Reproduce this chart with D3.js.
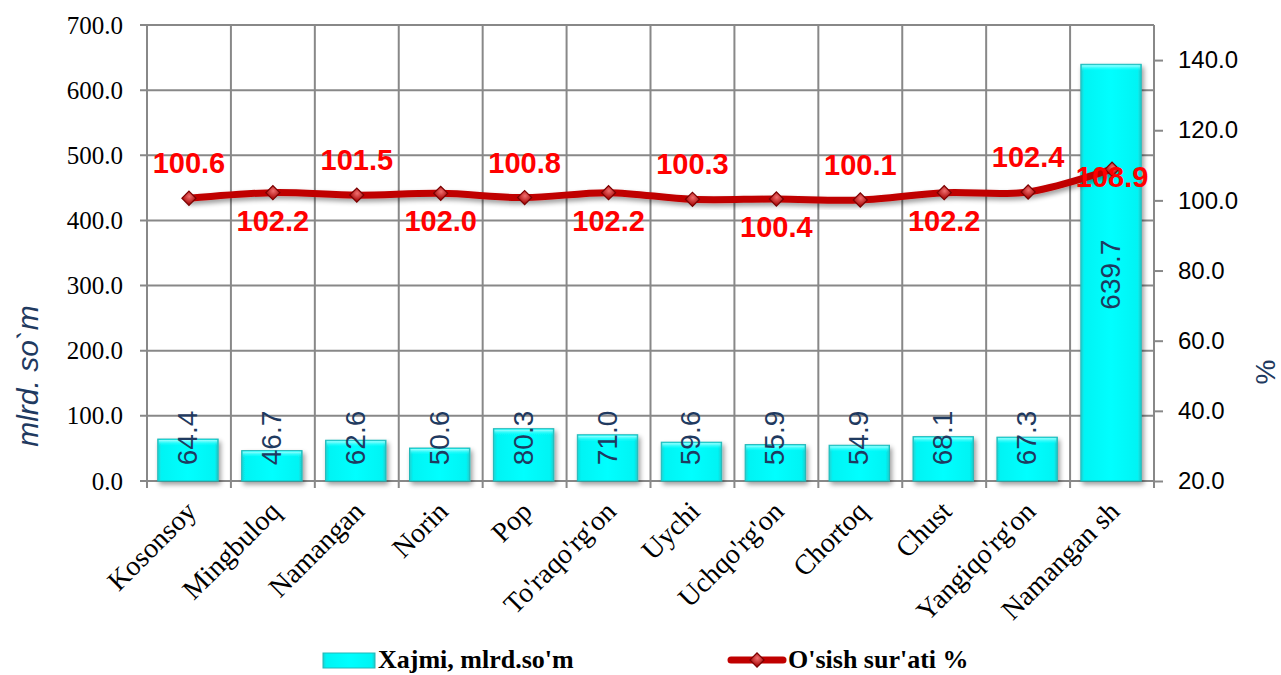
<!DOCTYPE html>
<html><head><meta charset="utf-8">
<script src="https://cdn.jsdelivr.net/npm/d3@7"></script>
<style>
html,body{margin:0;padding:0;background:#fff;}
svg{display:block;}
</style></head>
<body>
<svg id="chart" width="1281" height="675"></svg>
<script>
const categories = ["Kosonsoy","Mingbuloq","Namangan","Norin","Pop","To'raqo'rg'on","Uychi","Uchqo'rg'on","Chortoq","Chust","Yangiqo'rg'on","Namangan sh"];
const volumeValues = [64.4,46.7,62.6,50.6,80.3,71.0,59.6,55.9,54.9,68.1,67.3,639.7];
const growthValues = [100.6,102.2,101.5,102.0,100.8,102.2,100.3,100.4,100.1,102.2,102.4,108.9];
const leftTicks = [0,100,200,300,400,500,600,700];
const rightTicks = [20,40,60,80,100,120,140];
const seriesNames = ["Xajmi, mlrd.so'm","O'sish sur'ati %"];
const leftTitle = "mlrd. so`m";
const rightTitle = "%";

const svg = d3.select("#chart");
const L = 147, R = 1154, T = 25, B = 481;
const gridColor = "#888888";
const textBlue = "#1F3A60";

const x = d3.scaleBand().domain(categories).range([L, R]).padding(0);
const yL = d3.scaleLinear().domain([0, 700]).range([B, T]);
const yR = d3.scaleLinear().domain([20, 150]).range([B, T]);

const defs = svg.append("defs");
const bg = defs.append("linearGradient").attr("id","barGrad").attr("x1","0").attr("x2","1").attr("y1","0").attr("y2","0");
bg.append("stop").attr("offset","0").attr("stop-color","#1fd0d0");
bg.append("stop").attr("offset","0.06").attr("stop-color","#00f4f4");
bg.append("stop").attr("offset","0.5").attr("stop-color","#00ffff");
bg.append("stop").attr("offset","0.94").attr("stop-color","#00f4f4");
bg.append("stop").attr("offset","1").attr("stop-color","#1fc8c8");
const bgT = defs.append("linearGradient").attr("id","barTop").attr("x1","0").attr("x2","0").attr("y1","0").attr("y2","1");
bgT.append("stop").attr("offset","0").attr("stop-color","#b8ffff").attr("stop-opacity",0.9);
bgT.append("stop").attr("offset","1").attr("stop-color","#00ffff").attr("stop-opacity",0);
const shadow = defs.append("filter").attr("id","shadow").attr("x","-20%").attr("y","-20%").attr("width","150%").attr("height","150%");
shadow.append("feGaussianBlur").attr("in","SourceAlpha").attr("stdDeviation",2.5);
shadow.append("feOffset").attr("dx",2).attr("dy",3).attr("result","ob");
shadow.append("feComponentTransfer").append("feFuncA").attr("type","linear").attr("slope",0.4);
const fm = shadow.append("feMerge");
fm.append("feMergeNode");
fm.append("feMergeNode").attr("in","SourceGraphic");
const mg = defs.append("radialGradient").attr("id","mkGrad").attr("cx","0.4").attr("cy","0.35").attr("r","0.7");
mg.append("stop").attr("offset","0").attr("stop-color","#f07070");
mg.append("stop").attr("offset","1").attr("stop-color","#b01010");

// grid
const grid = svg.append("g").attr("stroke", gridColor).attr("stroke-width", 2);
leftTicks.forEach(t => {
  grid.append("line").attr("x1", L - 7).attr("x2", R).attr("y1", yL(t)).attr("y2", yL(t));
});
categories.forEach((c, i) => {
  const xx = x(c);
  grid.append("line").attr("x1", xx).attr("x2", xx).attr("y1", T).attr("y2", B + 7);
});
grid.append("line").attr("x1", R).attr("x2", R).attr("y1", T).attr("y2", B + 7);

// right axis
const rAx = svg.append("g").attr("transform", `translate(${R},0)`)
  .call(d3.axisRight(yR).tickValues(rightTicks).tickFormat(d3.format(".1f")).tickSize(9).tickPadding(15));
rAx.select(".domain").remove();
rAx.selectAll("line").attr("stroke", gridColor).attr("stroke-width", 2);
rAx.selectAll("text").attr("font-family", "'Liberation Sans', Arial, sans-serif").attr("font-size", 24).attr("fill", "#000");

// left axis labels
const lAx = svg.append("g").attr("transform", `translate(${L},0)`)
  .call(d3.axisLeft(yL).tickValues(leftTicks).tickFormat(d3.format(".1f")).tickSize(0).tickPadding(24));
lAx.select(".domain").remove();
lAx.selectAll("text").attr("font-family", "'Liberation Serif', 'Times New Roman', serif").attr("font-size", 25).attr("fill", "#000");

// bars
const bw = x.bandwidth() * 0.72;
const bars = svg.append("g");
categories.forEach((c, i) => {
  const cx = x(c) + x.bandwidth() / 2 - 1;
  const yt = yL(volumeValues[i]);
  const g = bars.append("g").attr("filter", "url(#shadow)");
  g.append("rect").attr("x", cx - bw / 2).attr("y", yt).attr("width", bw).attr("height", B - yt)
    .attr("fill", "url(#barGrad)").attr("stroke", "#22b8b8").attr("stroke-width", 1);
  g.append("rect").attr("x", cx - bw / 2 + 1).attr("y", yt + 1).attr("width", bw - 2).attr("height", Math.min(6, B - yt - 2))
    .attr("fill", "url(#barTop)");
});
// bar labels
categories.forEach((c, i) => {
  const cx = x(c) + x.bandwidth() / 2 - 1;
  const yt = yL(volumeValues[i]);
  const cy = Math.min((yt + B) / 2 + 2, B - 43);
  svg.append("text").attr("transform", `translate(${cx + 9},${cy}) rotate(-90)`)
    .attr("text-anchor", "middle").attr("font-family", "'Liberation Sans', Arial, sans-serif")
    .attr("font-size", 28).attr("fill", textBlue).text(volumeValues[i].toFixed(1));
});

// line
const pts = categories.map((c, i) => [x(c) + x.bandwidth() / 2, yR(growthValues[i])]);
const lineGen = d3.line().curve(d3.curveCardinal.tension(0));
svg.append("path").attr("d", lineGen(pts)).attr("fill", "none").attr("stroke", "#c00000")
  .attr("stroke-width", 7).attr("stroke-linecap", "round").attr("filter", "url(#shadow)");
pts.forEach(p => {
  svg.append("path").attr("d", d3.symbol().type(d3.symbolSquare).size(100)())
    .attr("transform", `translate(${p[0]},${p[1]}) rotate(45)`)
    .attr("fill", "url(#mkGrad)").attr("stroke", "#7a0000").attr("stroke-width", 1.2);
});
// line labels
pts.forEach((p, i) => {
  let dy;
  if (i === pts.length - 1) dy = 18;
  else if (i % 2 === 0) dy = -25;
  else dy = 38;
  svg.append("text").attr("x", p[0]).attr("y", p[1] + dy)
    .attr("text-anchor", "middle").attr("font-family", "'Liberation Sans', Arial, sans-serif")
    .attr("font-weight", "bold").attr("font-size", 29).attr("fill", "#ff0000")
    .text(growthValues[i].toFixed(1));
});

// x labels
categories.forEach((c) => {
  const cx = x(c) + x.bandwidth() / 2;
  svg.append("text").attr("transform", `translate(${cx + 9},${B + 32}) rotate(-45)`)
    .attr("text-anchor", "end").attr("font-family", "'Liberation Serif', 'Times New Roman', serif")
    .attr("font-size", 28).attr("fill", "#000").text(c);
});

// axis titles
svg.append("text").attr("transform", `translate(38,376) rotate(-90)`).attr("text-anchor", "middle")
  .attr("font-family", "'Liberation Sans', Arial, sans-serif").attr("font-style", "italic")
  .attr("font-size", 30).attr("fill", textBlue).text(leftTitle);
svg.append("text").attr("transform", `translate(1275,372) rotate(-90)`).attr("text-anchor", "middle")
  .attr("font-family", "'Liberation Sans', Arial, sans-serif")
  .attr("font-size", 28).attr("fill", textBlue).text(rightTitle);

// legend
const lg = svg.append("g");
lg.append("rect").attr("x", 323).attr("y", 653).attr("width", 52).attr("height", 15)
  .attr("fill", "url(#barGrad)").attr("stroke", "#22b8b8");
lg.append("text").attr("x", 378).attr("y", 668).attr("font-family", "'Liberation Serif', 'Times New Roman', serif")
  .attr("font-weight", "bold").attr("font-size", 26).attr("fill", "#000").text(seriesNames[0]);
lg.append("line").attr("x1", 731).attr("x2", 783).attr("y1", 660).attr("y2", 660)
  .attr("stroke", "#c00000").attr("stroke-width", 7).attr("stroke-linecap", "round");
lg.append("path").attr("d", d3.symbol().type(d3.symbolSquare).size(100)())
  .attr("transform", `translate(757,660) rotate(45)`)
  .attr("fill", "url(#mkGrad)").attr("stroke", "#7a0000").attr("stroke-width", 1.2);
lg.append("text").attr("x", 788).attr("y", 668).attr("font-family", "'Liberation Serif', 'Times New Roman', serif")
  .attr("font-weight", "bold").attr("font-size", 26).attr("fill", "#000").text(seriesNames[1]);
</script>
</body></html>
